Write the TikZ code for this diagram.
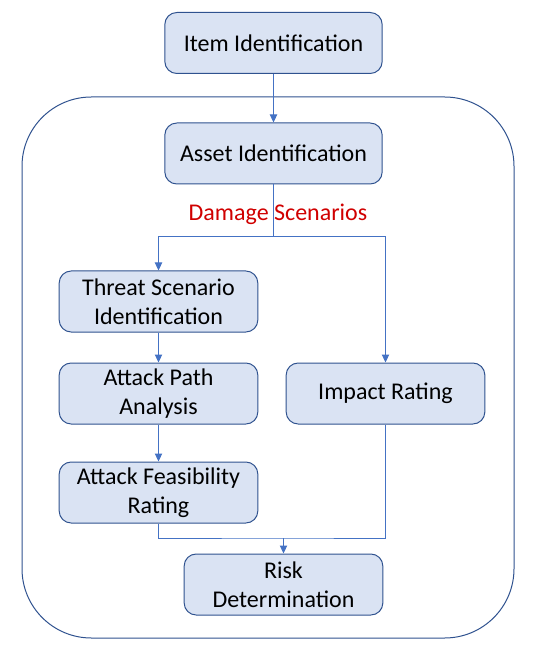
\documentclass[tikz,border=0pt]{standalone}
\usepackage{fontspec}
\setmainfont{Carlito}
\usetikzlibrary{arrows.meta}
\definecolor{boxfill}{HTML}{DAE3F3}
\definecolor{boxline}{HTML}{2F528F}
\definecolor{flowline}{HTML}{4472C4}
\definecolor{damred}{HTML}{D00000}
\begin{document}
\begin{tikzpicture}[x=0.75pt, y=-0.75pt, line width=0.75pt,
  stage/.style={draw=boxline, fill=boxfill, rounded corners=9pt, minimum width=149pt,
    minimum height=45.75pt, align=center, inner sep=0pt, font=\fontsize{18}{21.5}\selectfont},
  widestage/.style={stage, minimum width=163pt},
  flow/.style={draw=flowline, -{Triangle[width=5.5pt,length=6pt]}}]
  \useasboundingbox (0,0) rectangle (535,655);
  % the frame round the analysis
  \draw[boxline, rounded corners=52pt] (22,97) rectangle (514,638);
  % the stages
  \node[widestage] (item) at (273.5,43) {Item Identification};
  \node[widestage] (asset) at (273.5,153.5) {Asset Identification};
  \node[stage] (threat) at (158.5,301.5) {Threat Scenario\\Identification};
  \node[stage] (path) at (158.5,393.5) {Attack Path\\Analysis};
  \node[stage] (impact) at (385.5,393.5) {Impact Rating};
  \node[stage] (feas) at (158.5,492.5) {Attack Feasibility\\Rating};
  \node[stage] (risk) at (283.5,584.5) {Risk\\Determination};
  \coordinate (split) at (273.5,237);
  \coordinate (merge) at (283.5,538);
  % the flow, with the damage scenarios on the split
  \draw[flow] (item) -- (asset);
  \draw[flowline] (asset) -- (split);
  \node[text=damred, font=\fontsize{18}{21.5}\selectfont] (dmg) at (278,214) {Damage Scenarios};
  \draw[flow] (split) -| (threat);
  \draw[flow] (split) -| (impact);
  \draw[flow] (threat) -- (path);
  \draw[flow] (path) -- (feas);
  \draw[flowline] (feas) |- (merge) -| (impact);
  \draw[flow] (merge) -- (risk);
\end{tikzpicture}
\end{document}
